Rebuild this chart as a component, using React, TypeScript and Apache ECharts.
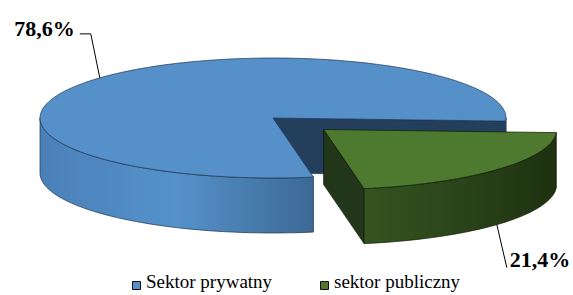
import React, { useEffect, useRef } from 'react';
import * as echarts from 'echarts';

// ---- data ----
const categories: string[] = ['Sektor prywatny', 'sektor publiczny'];
const values: number[] = [78.6, 21.4];
const valueLabels: string[] = ['78,6%', '21,4%'];

// ---- styles / layout ----
const topColors = ['#5590C9', '#4E7A2F'];
const faceColors = ['#243F5C', '#22361A'];
const wallStops = [
  ['#4A80B8', '#5592CA', '#3C6994'],
  ['#34541F', '#2A4419', '#1E3110'],
];
const edgeColors = ['#1E3450', '#0E1808'];
const legendColors = ['#5590C9', '#4E7A2F'];
const explode = [0, 0.29];

const W = 573;
const CX = 273;
const CY = 118;
const RX = 233;
const RY = 60;
const DEPTH = 55;
const START = 80;
const LABEL_SHIFT = 0.5;
const FONT = 'Times New Roman';
const LABEL_SIZE = 22;
const LEGEND_SIZE = 19;
const LEGEND_MARK_X = [132, 320];
const LEGEND_TEXT_X = [146, 334];
const LEGEND_TOP = 272;

const rad = (d: number) => (d * Math.PI) / 180;

function arcPts(cx: number, cy: number, a1: number, a2: number, dy = 0) {
  const pts: number[][] = [];
  const n = Math.max(4, Math.ceil(Math.abs(a2 - a1) / 2));
  for (let i = 0; i <= n; i++) {
    const t = rad(a1 + ((a2 - a1) * i) / n);
    pts.push([cx + RX * Math.cos(t), cy + RY * Math.sin(t) + dy]);
  }
  return pts;
}

function sliceGeom(idx: number, v: number) {
  const total = values.reduce((s, x) => s + x, 0);
  const before = values.slice(0, idx).reduce((s, x) => s + x, 0);
  const a1 = START + (before / total) * 360;
  const a2 = a1 + (v / total) * 360;
  const mid = (a1 + a2) / 2;
  const f = explode[idx];
  const ox = CX + f * RX * Math.cos(rad(mid));
  const oy = CY + f * RY * Math.sin(rad(mid));
  const P = (a: number, dy = 0) => [ox + RX * Math.cos(rad(a)), oy + RY * Math.sin(rad(a)) + dy];
  const la = mid + LABEL_SHIFT;
  const front = Math.sin(rad(la)) > 0;
  const anchor = P(la, front ? DEPTH : 0);
  let leader: number[][];
  if (!front) {
    const elbow = [anchor[0] - 9, anchor[1] - 44];
    leader = [anchor, elbow, [elbow[0] - 11, elbow[1]]];
  } else {
    leader = [anchor, [anchor[0] + 10, anchor[1] + 43]];
  }
  return { a1, a2, mid, ox, oy, P, front, leader };
}

function makeRender(idx: number) {
  return (params: any, api: any) => {
    const g = sliceGeom(idx, api.value(0));
    const { a1, a2, ox, oy, P } = g;
    const edge = edgeColors[idx];
    const children: any[] = [];

    const faceStyle = { fill: faceColors[idx], stroke: edge, lineWidth: 0.7 };
    if (-Math.cos(rad(a1)) > 0.001) {
      const p = P(a1);
      children.push({
        type: 'polygon',
        shape: { points: [[ox, oy], p, [p[0], p[1] + DEPTH], [ox, oy + DEPTH]] },
        style: faceStyle,
        z2: 1,
      });
    }
    if (Math.cos(rad(a2)) > 0.001) {
      const p = P(a2);
      children.push({
        type: 'polygon',
        shape: { points: [[ox, oy], p, [p[0], p[1] + DEPTH], [ox, oy + DEPTH]] },
        style: faceStyle,
        z2: 1,
      });
    }

    for (let k = -1; k <= 2; k++) {
      const s = Math.max(a1, k * 360);
      const e = Math.min(a2, k * 360 + 180);
      if (e - s > 0.01) {
        const top = arcPts(ox, oy, s, e);
        const bot = arcPts(ox, oy, e, s, DEPTH);
        const stops = wallStops[idx];
        children.push({
          type: 'polygon',
          shape: { points: top.concat(bot) },
          style: {
            fill: new echarts.graphic.LinearGradient(0, 0, 1, 0, stops.map((c, i) => ({ offset: i / (stops.length - 1), color: c }))),
            stroke: edge,
            lineWidth: 0.7,
          },
          z2: 2,
        });
      }
    }

    children.push({
      type: 'polygon',
      shape: { points: [[ox, oy]].concat(arcPts(ox, oy, a1, a2)) },
      style: { fill: topColors[idx], stroke: edge, lineWidth: 0.7 },
      z2: 3,
    });

    children.push({
      type: 'polyline',
      shape: { points: g.leader },
      style: { stroke: '#000', lineWidth: 1, fill: null },
      z2: 5,
    });

    return { type: 'group', children };
  };
}

function labelGraphics() {
  return values.map((v, i) => {
    const g = sliceGeom(i, v);
    const end = g.leader[g.leader.length - 1];
    const style = { text: valueLabels[i], fontFamily: FONT, fontSize: LABEL_SIZE, fontWeight: 'bold', fill: '#000' };
    if (!g.front) {
      return { type: 'text', right: W - (end[0] - 5), top: end[1] - 5 - LABEL_SIZE / 2, style };
    }
    return { type: 'text', left: end[0] + 3, top: end[1] - 8.5 - LABEL_SIZE / 2, style };
  });
}

function legendGraphics() {
  const out: any[] = [];
  categories.forEach((name, i) => {
    out.push({
      type: 'rect',
      shape: { x: LEGEND_MARK_X[i] + 0.5, y: LEGEND_TOP + 9.5, width: 8, height: 8 },
      style: { fill: legendColors[i], stroke: '#111', lineWidth: 1 },
    });
    out.push({
      type: 'text',
      left: LEGEND_TEXT_X[i],
      top: LEGEND_TOP,
      style: { text: name, fontFamily: FONT, fontSize: LEGEND_SIZE, fill: '#000' },
    });
  });
  return out;
}

export default function App() {
  const ref = useRef<HTMLDivElement>(null);
  useEffect(() => {
    document.body.style.margin = '0';
    if (!ref.current) return;
    const chart = echarts.init(ref.current, undefined, { renderer: 'svg' });
    chart.setOption({
      animation: false,
      textStyle: { fontFamily: FONT },
      graphic: [...labelGraphics(), ...legendGraphics()],
      series: categories.map((name, i) => ({
        type: 'custom',
        name,
        coordinateSystem: 'none',
        silent: true,
        itemStyle: { color: legendColors[i] },
        data: [[values[i]]],
        renderItem: makeRender(i),
      })),
    });
    return () => chart.dispose();
  }, []);
  return <div ref={ref} style={{ width: 573, height: 295 }} />;
}
